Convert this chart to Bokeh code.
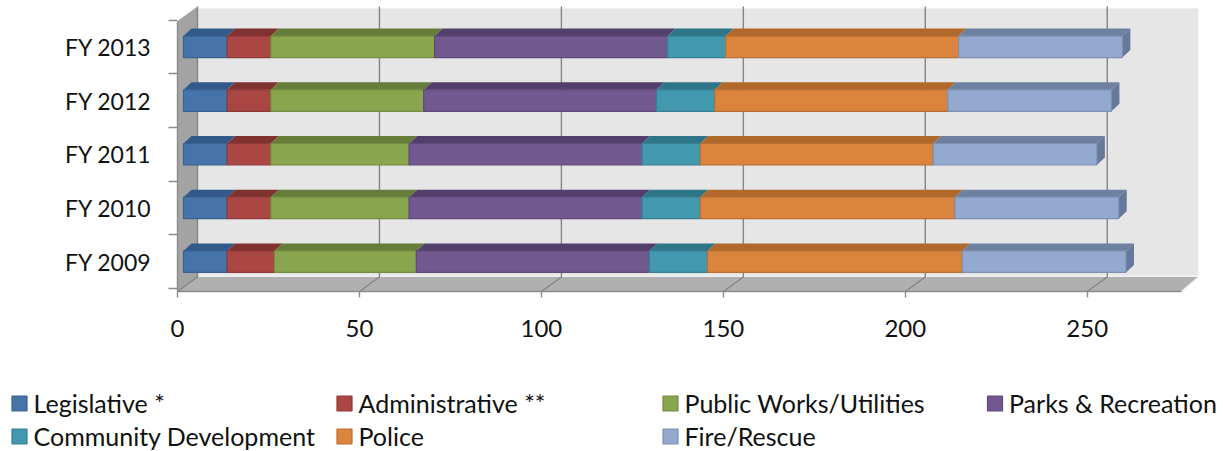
from bokeh.core.properties import value
from bokeh.embed import file_html
from bokeh.layouts import column
from bokeh.models import FixedTicker, LinearAxis, Range1d
from bokeh.plotting import figure
from bokeh.resources import INLINE

years = ["FY 2009", "FY 2010", "FY 2011", "FY 2012", "FY 2013"]
legislative = [12, 12, 12, 12, 12]
administrative = [13, 12, 12, 12, 12]
public_works = [39, 38, 38, 42, 45]
parks = [64, 64, 64, 64, 64]
community = [16, 16, 16, 16, 16]
police = [70, 70, 64, 64, 64]
fire = [45, 45, 45, 45, 45]

names = ["Legislative *", "Administrative **", "Public Works/Utilities", "Parks & Recreation",
         "Community Development", "Police", "Fire/Rescue"]
series = [legislative, administrative, public_works, parks, community, police, fire]
front = ["#4674a8", "#aa4643", "#89a54e", "#71588f", "#4198af", "#db843d", "#93a9cf"]
edge = ["#3a6291", "#8f3a38", "#748c42", "#5f4a79", "#377f94", "#b96f33", "#7d90b0"]
top = ["#315a8a", "#7f3230", "#667d3a", "#533f6c", "#2f7588", "#b0692a", "#6e80a0"]
ticks = [0, 50, 100, 150, 200, 250]

FONT = "Lato"
PX_X = 3.639          # pixels per unit along the value axis
PX_Y = 53.7           # pixels per category band
WALL_DX, WALL_DY = 20 / PX_X, 14.5 / PX_Y   # depth of the chart box
BAR_X0 = 6 / PX_X                           # bars stand a little way into the floor
BAR_DX, BAR_DY = 8 / PX_X, 7.5 / PX_Y       # depth of each bar
BAR_H = 21.5 / PX_Y
X_MAX = 1021 / PX_X
FLOOR_RIGHT = 1004 / PX_X
Y_BOTTOM = -3 / PX_Y
Y_TOP = 284 / PX_Y
WALL_TOP = 280 / PX_Y
STUB_TOP = 282 / PX_Y
Y_AXIS_TOP = 267.5 / PX_Y
BACK_Y = Y_BOTTOM + WALL_DY

p = figure(width=1223, height=351, output_backend="svg", toolbar_location=None,
           x_range=Range1d(0, X_MAX), y_range=Range1d(Y_BOTTOM, Y_TOP),
           x_axis_type=None, y_axis_type=None, frame_align=False,
           min_border_left=177, min_border_right=25, min_border_top=4, min_border_bottom=60,
           outline_line_color=None, border_fill_color="white", background_fill_color="white")
p.grid.visible = False

# box walls and floor
p.patch([WALL_DX, X_MAX, X_MAX, WALL_DX], [BACK_Y, BACK_Y, WALL_TOP, WALL_TOP],
        fill_color="#e6e6e6", line_color=None)
p.patch([0, WALL_DX, WALL_DX, 0], [Y_BOTTOM, BACK_Y, STUB_TOP, Y_AXIS_TOP],
        fill_color="#a3a3a3", line_color=None)
p.patch([0, WALL_DX, X_MAX, FLOOR_RIGHT], [Y_BOTTOM, BACK_Y, BACK_Y, Y_BOTTOM],
        fill_color="#b0b0b0", line_color=None)
p.line([WALL_DX, X_MAX], [BACK_Y + 0.02, BACK_Y + 0.02], line_color="#f0f0f0", line_width=1.5)
p.line([FLOOR_RIGHT, X_MAX], [Y_BOTTOM, BACK_Y], line_color="#f0f0f0", line_width=1.5)

# gridlines run up the back wall and across the floor
for t in ticks:
    p.line([t, t + WALL_DX, t + WALL_DX], [Y_BOTTOM, BACK_Y, STUB_TOP],
           line_color="#858585", line_width=1.4)

# stacked bars: top face, front face, and an end cap on the last segment
for row, year in enumerate(years):
    y0 = row + 0.5 - BAR_H / 2
    y1 = y0 + BAR_H
    left = 0
    for k, vals in enumerate(series):
        right = left + vals[row]
        xa, xb = BAR_X0 + left, BAR_X0 + right
        p.patch([xa, xb, xb + BAR_DX, xa + BAR_DX], [y1, y1, y1 + BAR_DY, y1 + BAR_DY],
                fill_color=top[k], line_color=None)
        if k == len(series) - 1:
            p.patch([xb, xb + BAR_DX, xb + BAR_DX, xb], [y0, y0 + BAR_DY, y1 + BAR_DY, y1],
                    fill_color="#66799b", line_color=None)
        p.quad(left=xa, right=xb, bottom=y0, top=y1, fill_color=front[k],
               line_color=edge[k], line_width=1.2)
        left = right

x_axis = LinearAxis(ticker=FixedTicker(ticks=ticks), bounds=(0, FLOOR_RIGHT),
                    axis_line_color="#8c8c8c", axis_line_width=1.4,
                    major_tick_line_color="#8c8c8c", major_tick_line_width=1.4,
                    major_tick_out=6, major_tick_in=0, minor_tick_out=0, minor_tick_in=0,
                    major_label_text_font=FONT, major_label_text_font_size="24px",
                    major_label_text_color="#111111", major_label_standoff=22)
p.add_layout(x_axis, "below")

# year labels sit on major ticks at band centres, band edges are the visible minor ticks
y_axis = LinearAxis(ticker=FixedTicker(ticks=[i + 0.5 for i in range(len(years))],
                                       minor_ticks=list(range(len(years) + 1))),
                    major_label_overrides={i + 0.5: y for i, y in enumerate(years)},
                    bounds=(Y_BOTTOM, Y_AXIS_TOP),
                    axis_line_color="#8c8c8c", axis_line_width=1.4,
                    major_tick_line_color=None, major_tick_out=0, major_tick_in=0,
                    minor_tick_line_color="#8c8c8c", minor_tick_line_width=1.4,
                    minor_tick_out=9, minor_tick_in=0,
                    major_label_text_font=FONT, major_label_text_font_size="23px",
                    major_label_text_color="#111111", major_label_standoff=17)
p.add_layout(y_axis, "left")

# legend strip beneath the plot, two rows of four columns
leg = figure(width=1223, height=100, output_backend="svg", toolbar_location=None,
             x_range=Range1d(0, 1223), y_range=Range1d(100, 0), frame_align=False,
             x_axis_type=None, y_axis_type=None, min_border=0,
             outline_line_color=None, border_fill_color="white", background_fill_color="white")
leg.grid.visible = False
col_x = [19, 344, 670, 994.5]
row_y = [52, 85]
for k, name in enumerate(names):
    cx = col_x[k % 4]
    cy = row_y[k // 4]
    leg.rect(x=[cx], y=[cy], width=15, height=15, fill_color=front[k], line_color=edge[k], line_width=1.2)
    leg.text(x=[cx + 14], y=[cy - 1], text=[name], text_font=value(FONT), text_font_size="25px",
             text_color="#111111", text_baseline="middle", text_align="left")

open("out.html", "w").write(file_html(column(p, leg, spacing=0), INLINE))
